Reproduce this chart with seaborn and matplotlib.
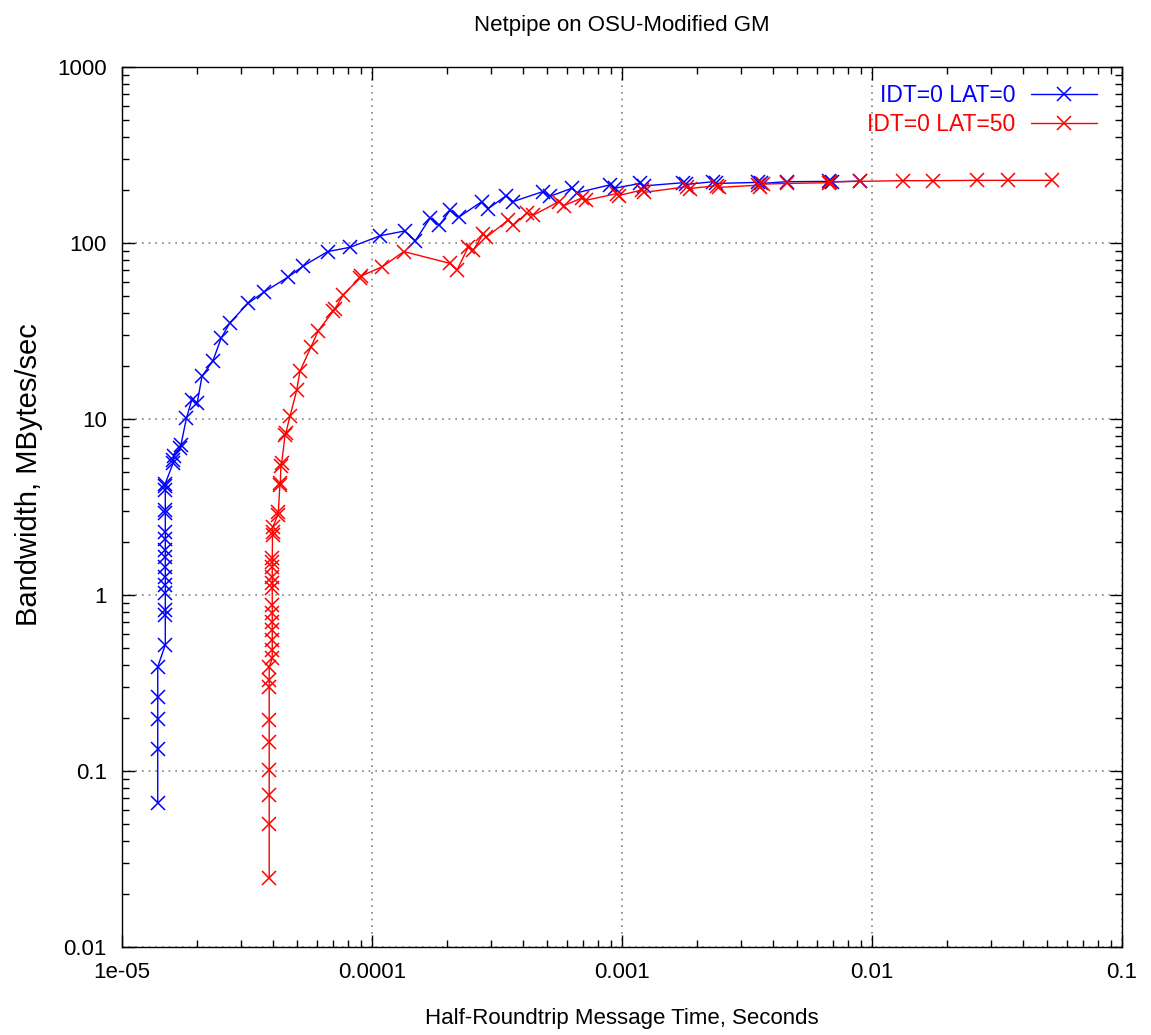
import numpy as np
import pandas as pd
import matplotlib
matplotlib.use("Agg")
import matplotlib.pyplot as plt
import matplotlib.ticker as mticker
import seaborn as sns

# ---------------- data ----------------
blue_label = "IDT=0 LAT=0"
blue_time = [1.39e-5, 1.39e-5, 1.39e-5, 1.39e-5, 1.39e-5,
             1.49e-5, 1.49e-5, 1.49e-5, 1.49e-5, 1.49e-5, 1.49e-5, 1.49e-5, 1.49e-5,
             1.49e-5, 1.49e-5, 1.49e-5, 1.49e-5, 1.49e-5, 1.49e-5, 1.49e-5, 1.49e-5,
             1.60e-5, 1.60e-5, 1.62e-5, 1.71e-5, 1.72e-5, 1.81e-5, 1.90e-5, 2.00e-5,
             2.09e-5, 2.31e-5, 2.49e-5, 2.70e-5, 3.19e-5, 3.71e-5, 4.60e-5, 5.30e-5,
             6.65e-5, 8.19e-5, 1.08e-4, 1.35e-4, 1.49e-4, 1.71e-4, 1.86e-4, 2.05e-4,
             2.22e-4, 2.75e-4, 2.92e-4, 3.43e-4, 3.67e-4, 4.83e-4, 5.15e-4, 6.31e-4,
             6.61e-4, 8.95e-4, 9.38e-4, 1.18e-3, 1.22e-3, 1.75e-3, 1.80e-3, 2.31e-3,
             2.38e-3, 3.50e-3, 3.60e-3, 4.57e-3, 6.73e-3, 6.90e-3, 8.95e-3]
blue_bw = [0.066, 0.133, 0.197, 0.264, 0.392,
           0.52, 0.77, 0.82, 1.02, 1.14, 1.27, 1.45, 1.65,
           1.80, 2.07, 2.29, 2.91, 3.04, 3.95, 4.15, 4.30,
           5.6, 5.85, 6.2, 6.8, 7.1, 10.1, 12.8, 12.4,
           17.5, 21.4, 28.7, 35.2, 45.4, 52.8, 63.8, 73.9,
           89.4, 94.6, 110, 117, 103, 139, 126, 153,
           140, 172, 157, 185, 172, 196, 184, 205,
           193, 214, 205, 218, 211, 220, 215, 223,
           218, 221, 218, 223, 224, 222, 225]

red_label = "IDT=0 LAT=50"
red_time = [3.88e-5, 3.88e-5, 3.88e-5, 3.88e-5, 3.88e-5, 3.88e-5, 3.88e-5, 3.88e-5, 3.88e-5,
            3.99e-5, 3.99e-5, 3.99e-5, 3.99e-5, 3.99e-5, 3.99e-5, 3.99e-5, 3.99e-5,
            3.99e-5, 3.99e-5, 3.99e-5, 3.99e-5, 3.99e-5,
            4.00e-5, 4.00e-5, 4.02e-5, 4.20e-5, 4.22e-5, 4.28e-5, 4.30e-5, 4.32e-5,
            4.35e-5, 4.49e-5, 4.52e-5, 4.70e-5, 5.00e-5, 5.15e-5, 5.69e-5, 6.10e-5,
            7.00e-5, 7.10e-5, 7.68e-5, 8.95e-5, 9.05e-5, 1.10e-4, 1.34e-4, 2.05e-4,
            2.19e-4, 2.43e-4, 2.54e-4, 2.79e-4, 2.87e-4, 3.51e-4, 3.67e-4, 4.16e-4,
            4.42e-4, 5.60e-4, 5.85e-4, 6.90e-4, 7.20e-4, 9.55e-4, 9.70e-4, 1.20e-3,
            1.23e-3, 1.82e-3, 1.87e-3, 2.39e-3, 2.45e-3, 3.50e-3, 3.55e-3, 3.65e-3,
            4.57e-3, 6.70e-3, 6.80e-3, 8.95e-3, 1.33e-2, 1.75e-2, 2.63e-2, 3.50e-2,
            5.25e-2]
red_bw = [0.0246, 0.050, 0.073, 0.101, 0.147, 0.195, 0.30, 0.33, 0.39,
          0.436, 0.487, 0.555, 0.633, 0.705, 0.787, 0.877, 1.10,
          1.17, 1.27, 1.45, 1.55, 1.62,
          2.20, 2.29, 2.45, 2.85, 2.95, 4.20, 4.35, 5.4,
          5.6, 8.1, 8.3, 10.4, 14.6, 18.7, 25.5, 31.8,
          41.0, 42.2, 50.7, 63.5, 65.0, 73.3, 89.4, 76.6,
          70.3, 95.3, 91.0, 113, 108, 135, 126, 148,
          144, 172, 163, 180, 175, 191, 186, 200,
          194, 209, 204, 212, 207, 213, 209, 216,
          218, 220, 223, 224, 226, 226, 227, 227,
          227]

x_ticks = [1e-5, 1e-4, 1e-3, 1e-2, 1e-1]
x_tick_labels = ["1e-05", "0.0001", "0.001", "0.01", "0.1"]
y_ticks = [0.01, 0.1, 1, 10, 100, 1000]
y_tick_labels = ["0.01", "0.1", "1", "10", "100", "1000"]

title = "Netpipe on OSU-Modified GM"
x_label = "Half-Roundtrip Message Time, Seconds"
y_label = "Bandwidth, MBytes/sec"

# ---------------- style ----------------
sns.set_theme(style="white")
plt.rcParams["font.family"] = ["Liberation Sans", "DejaVu Sans"]
plt.rcParams["axes.edgecolor"] = "black"
plt.rcParams["axes.linewidth"] = 1.0

fig = plt.figure(figsize=(11.51, 10.35), dpi=100)
ax = fig.add_axes([122 / 1151, 1 - 947 / 1035, 1000 / 1151, 880 / 1035])

df_blue = pd.DataFrame({"t": blue_time, "bw": blue_bw})
df_red = pd.DataFrame({"t": red_time, "bw": red_bw})

sns.lineplot(data=df_blue, x="t", y="bw", ax=ax, sort=False, estimator=None,
             color="#0000ff", lw=1.0, marker="x", markersize=9.5,
             markeredgecolor="#0000ff", markeredgewidth=1.1, label=blue_label)
sns.lineplot(data=df_red, x="t", y="bw", ax=ax, sort=False, estimator=None,
             color="#ff0000", lw=1.0, marker="x", markersize=9.5,
             markeredgecolor="#ff0000", markeredgewidth=1.1, label=red_label)

ax.set_xscale("log")
ax.set_yscale("log")
ax.set_xlim(1e-5, 0.1)
ax.set_ylim(0.01, 1000)

ax.xaxis.set_major_locator(mticker.FixedLocator(x_ticks))
ax.xaxis.set_major_formatter(mticker.FixedFormatter(x_tick_labels))
ax.yaxis.set_major_locator(mticker.FixedLocator(y_ticks))
ax.yaxis.set_major_formatter(mticker.FixedFormatter(y_tick_labels))
ax.xaxis.set_minor_locator(mticker.LogLocator(base=10, subs=np.arange(2, 10), numticks=20))
ax.yaxis.set_minor_locator(mticker.LogLocator(base=10, subs=np.arange(2, 10), numticks=20))
ax.xaxis.set_minor_formatter(mticker.NullFormatter())
ax.yaxis.set_minor_formatter(mticker.NullFormatter())

ax.tick_params(which="major", direction="in", length=9, width=1.0, color="black",
               top=True, right=True, bottom=True, left=True, labelsize=16,
               labelcolor="black", pad=11)
ax.tick_params(which="minor", direction="in", length=5, width=1.0, color="black",
               top=True, right=True, bottom=True, left=True)

ax.grid(True, which="major", linestyle=(0, (1, 3)), color="#808080", linewidth=1.2)
ax.grid(False, which="minor")
for s in ax.spines.values():
    s.set_color("black")
    s.set_linewidth(1.0)

ax.set_title(title, fontsize=16, pad=26, color="black")
ax.set_xlabel(x_label, fontsize=16, color="black")
ax.xaxis.set_label_coords(0.5, (947 - 1008) / 880)
ax.set_ylabel(y_label, fontsize=21, color="black")
ax.yaxis.set_label_coords((43 - 122) / 1000, (947 - 475) / 880)

leg = ax.legend(loc="upper right", bbox_to_anchor=((1097 - 122) / 1000, (947 - 84) / 880),
                frameon=False, markerfirst=False,
                fontsize=16.5, handlelength=2.9, handletextpad=0.65,
                labelspacing=0.25, borderaxespad=0.0, borderpad=0.0,
                labelcolor="linecolor")

fig.savefig("out.png", dpi=100)
